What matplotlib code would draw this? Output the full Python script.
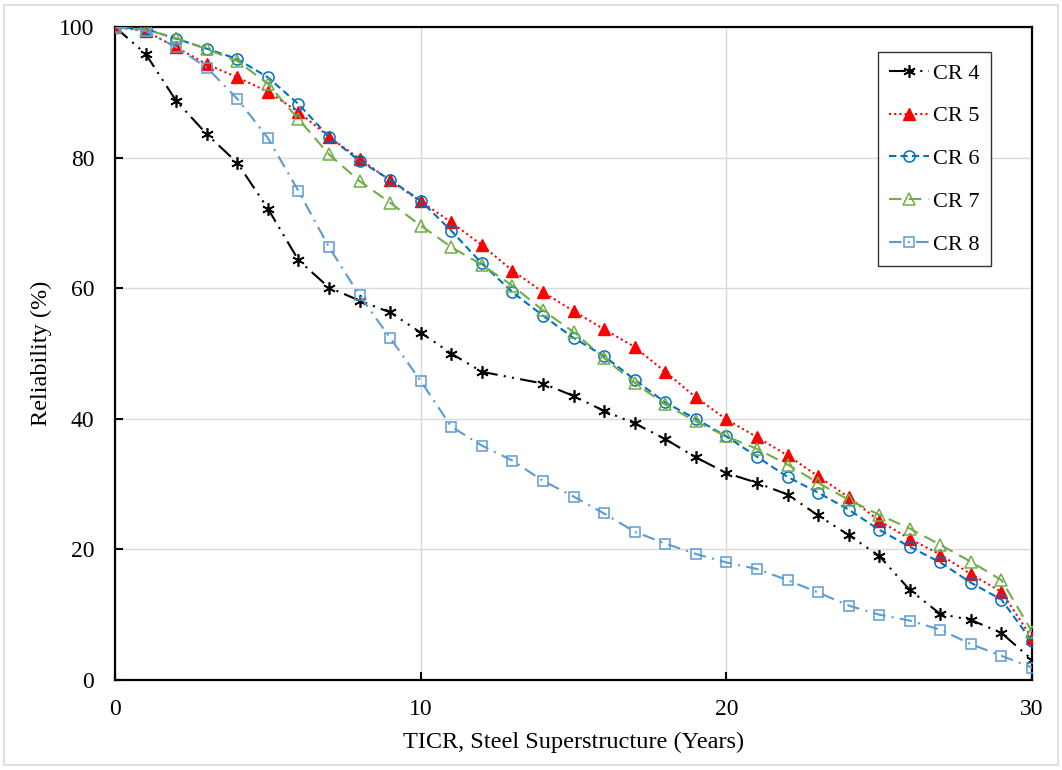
import matplotlib
matplotlib.use("Agg")
import matplotlib.pyplot as plt
import numpy as np

plt.rcParams['font.family'] = ['Liberation Serif', 'DejaVu Serif']

years = list(range(0, 31))
years_cr4 = [y for y in years if y != 13]

cr4 = [100, 95.9, 88.7, 83.6, 79.2, 72.2, 64.3, 60.1, 58.1, 56.3, 53.2,
       50.0, 47.2, 45.4, 43.5, 41.2, 39.3, 36.9, 34.1, 31.7,
       30.2, 28.4, 25.2, 22.2, 19.0, 13.8, 10.1, 9.2, 7.2, 3.1]
cr5 = [100, 99.4, 96.9, 94.3, 92.3, 90.1, 87.0, 83.2, 79.8, 76.5, 73.3,
       70.1, 66.6, 62.7, 59.4, 56.5, 53.7, 51.0, 47.2, 43.3,
       39.9, 37.2, 34.4, 31.2, 28.0, 24.4, 21.6, 19.2, 16.2, 13.5, 6.4]
cr6 = [100, 99.7, 98.2, 96.7, 95.1, 92.3, 88.2, 83.2, 79.5, 76.6, 73.4,
       68.8, 63.8, 59.4, 55.8, 52.4, 49.6, 46.0, 42.5, 40.0,
       37.3, 34.2, 31.1, 28.7, 26.1, 23.0, 20.4, 18.0, 14.9, 12.3, 5.9]
cr7 = [100, 99.6, 98.3, 96.6, 94.8, 91.3, 85.9, 80.5, 76.4, 73.1, 69.6,
       66.3, 63.6, 60.4, 56.6, 53.3, 49.3, 45.5, 42.2, 39.6,
       37.3, 35.4, 33.0, 30.2, 27.6, 25.3, 23.2, 20.7, 18.1, 15.3, 7.4]
cr8 = [100, 99.4, 96.9, 93.8, 89.0, 83.0, 74.9, 66.3, 58.9, 52.4, 45.8,
       38.8, 35.9, 33.6, 30.5, 28.1, 25.5, 22.7, 20.9, 19.3,
       18.0, 17.0, 15.3, 13.4, 11.4, 10.0, 9.1, 7.7, 5.5, 3.7, 1.9]

fig = plt.figure(figsize=(10.62, 7.70), dpi=100)
# light outer border
fig.patches.append(plt.Rectangle((0.004, 0.006), 0.992, 0.988, transform=fig.transFigure,
                                 fill=False, edgecolor='#d9d9d9', linewidth=1.2))
ax = fig.add_axes([0.1083, 0.1169, 0.8635, 0.848])

lw = 1.5
ax.plot(years_cr4, cr4, color='black', lw=lw, linestyle=(0, (8, 3, 1, 3, 1, 3)),
        marker=(6, 2, 0), markersize=9, markeredgewidth=1.2, label='CR 4', zorder=3)
ax.plot(years, cr5, color='#FF0000', lw=lw, linestyle=(0, (1, 1.5)),
        marker='^', markersize=8, markerfacecolor='#FF0000', markeredgecolor='#FF0000',
        label='CR 5', zorder=3)
ax.plot(years, cr6, color='#0070C0', lw=lw, linestyle=(0, (3.5, 2)),
        marker='o', markersize=8, markerfacecolor='none', markeredgewidth=1.1,
        label='CR 6', zorder=3)
ax.plot(years, cr7, color='#70AD47', lw=lw, linestyle=(0, (6, 3.5)),
        marker='^', markersize=8, markerfacecolor='none', markeredgewidth=1.1,
        label='CR 7', zorder=3)
ax.plot(years, cr8, color='#5B9BD5', lw=lw, linestyle=(0, (6, 3, 1, 3)),
        marker='s', markersize=7.5, markerfacecolor='none', markeredgewidth=1.1,
        label='CR 8', zorder=3)

ax.set_xlim(0, 30)
ax.set_ylim(0, 100)
ax.set_xticks([0, 10, 20, 30])
ax.set_yticks([0, 20, 40, 60, 80, 100])
ax.grid(True, color='#d9d9d9', linewidth=1.0)
ax.set_axisbelow(True)
for s in ax.spines.values():
    s.set_linewidth(1.6)
    s.set_color('black')
ax.tick_params(direction='in', length=6, width=1.5, labelsize=17)
ax.tick_params(axis='x', pad=14)
ax.tick_params(axis='y', pad=15)
ax.set_xlabel('TICR, Steel Superstructure (Years)', fontsize=17.5, labelpad=8)
ax.set_ylabel('Reliability (%)', fontsize=17.5, labelpad=5)

leg = ax.legend(loc='upper right', bbox_to_anchor=(0.955, 0.962), fontsize=16,
                frameon=True, fancybox=False, edgecolor='black', labelspacing=1.0,
                handlelength=1.8, borderpad=0.5, handletextpad=0.2, borderaxespad=0)
leg.get_frame().set_linewidth(1.0)

fig.savefig('out.png', dpi=100)
